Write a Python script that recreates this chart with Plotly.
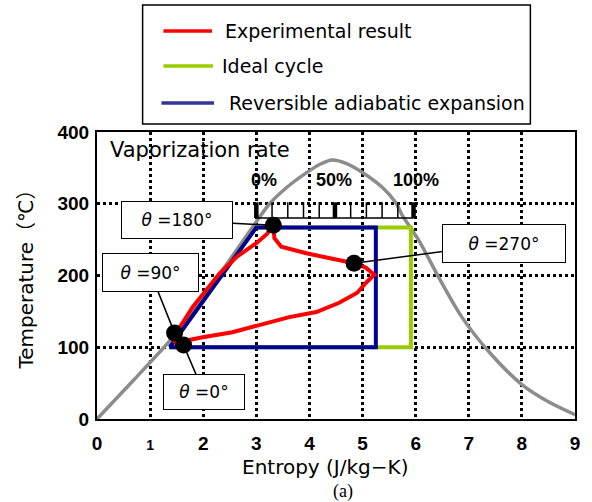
import plotly.graph_objects as go

# ---------------- data ----------------
dome_s = [0.0, 0.7, 1.43, 2.0, 2.5, 3.0, 3.25, 3.56, 3.94, 4.2, 4.43,
          4.7, 4.99, 5.37, 5.63, 5.74, 6.06, 6.43, 6.87, 7.4, 8.0, 8.5, 9.0]
dome_T = [0, 55, 114, 170, 222, 275, 300, 322, 343, 355, 361,
          356, 344, 323, 301, 285, 249, 198, 142, 92, 48, 24, 6]

ideal_s = [1.37, 5.91, 5.91, 3.0, 1.37]
ideal_T = [100, 100, 267, 267, 100]

rev_s = [1.37, 5.25, 5.25, 3.0, 1.37]
rev_T = [100, 100, 267, 267, 100]

exp_s = [1.45, 1.56, 1.80, 2.06, 2.31, 2.63, 3.00, 3.20, 3.32, 3.34, 3.47, 3.94,
         4.37, 4.84, 5.06, 5.22, 5.08, 4.90, 4.56, 4.13, 3.62, 3.19, 2.55, 1.99,
         1.52, 1.45]
exp_T = [106, 128, 156, 180, 203, 226, 245, 258, 270, 252, 240, 231,
         224, 217, 211, 201, 191, 176, 162, 149, 142, 134, 121, 114,
         107, 106]

theta_labels = ["0", "90", "180", "270"]
theta_s = [1.63, 1.46, 3.32, 4.84]
theta_T = [103, 120, 270, 217]

vap_pct = [0, 10, 20, 30, 40, 50, 60, 70, 80, 90, 100]
vap_major = [0, 50, 100]
vap_s0, vap_s100 = 3.0, 5.96
vap_base_T, vap_top_T = 280, 302

x_ticks = [0, 1, 2, 3, 4, 5, 6, 7, 8, 9]
y_ticks = [0, 100, 200, 300, 400]

# ---------------- geometry helpers ----------------
W, H = 592, 502
L, R, T, B = 97, 579, 132, 419


def px(xp):
    return (xp - L) / (R - L)


def py(yp):
    return (B - yp) / (B - T)


fig = go.Figure()

fig.add_trace(go.Scatter(x=dome_s, y=dome_T, mode="lines",
                         line=dict(color="#8c8c8c", width=3.5, shape="spline", smoothing=0.8),
                         showlegend=False, hoverinfo="skip"))
fig.add_trace(go.Scatter(x=ideal_s, y=ideal_T, mode="lines", line=dict(color="#99cc00", width=4),
                         name="Ideal cycle", showlegend=False))
fig.add_trace(go.Scatter(x=rev_s, y=rev_T, mode="lines", line=dict(color="#000096", width=4),
                         name="Reversible adiabatic expansion", showlegend=False))
fig.add_trace(go.Scatter(x=exp_s, y=exp_T, mode="lines", line=dict(color="#ff0000", width=4),
                         name="Experimental result", showlegend=False))


# vaporization rate scale
def vx(p):
    return vap_s0 + p / 100 * (vap_s100 - vap_s0)


minor_x, minor_y = [vx(0), vx(100), None], [vap_base_T, vap_base_T, None]
for p in vap_pct:
    if p not in vap_major:
        minor_x += [vx(p), vx(p), None]
        minor_y += [vap_base_T, vap_top_T, None]
major_x, major_y = [], []
for p in vap_major:
    major_x += [vx(p), vx(p), None]
    major_y += [vap_base_T, vap_top_T, None]
fig.add_trace(go.Scatter(x=minor_x, y=minor_y, mode="lines", line=dict(color="black", width=1.5),
                         showlegend=False, hoverinfo="skip"))
fig.add_trace(go.Scatter(x=major_x, y=major_y, mode="lines", line=dict(color="black", width=4.5),
                         showlegend=False, hoverinfo="skip"))

fig.add_trace(go.Scatter(x=theta_s, y=theta_T, mode="markers", marker=dict(color="black", size=17),
                         showlegend=False, hoverinfo="skip"))

ann = []
box_spec = {"0": (20, 47, 80, 34), "90": (-24, -60, 95, 37), "180": (-96, -5, 110, 36), "270": (150, -20, 122, 37)}
for lab, s, t in zip(theta_labels, theta_s, theta_T):
    ax, ay, w, h = box_spec[lab]
    ann.append(dict(x=s, y=t, xref="x", yref="y", text="<i>θ</i> =" + lab + "°",
                    font=dict(family="DejaVu Sans", size=17, color="black"),
                    showarrow=True, arrowhead=0, arrowwidth=1.5, arrowcolor="black",
                    ax=ax, ay=ay, bgcolor="white", bordercolor="black", borderwidth=1,
                    borderpad=0, width=w, height=h))

ann.append(dict(x=0.2, y=375, xref="x", yref="y", text="Vaporization rate", xanchor="left", yanchor="middle",
                showarrow=False, font=dict(family="DejaVu Sans", size=21, color="black")))
for lab, s in zip(["0%", "50%", "100%"], [3.15, 4.47, 6.0]):
    ann.append(dict(x=s, y=333, xref="x", yref="y", text="<b>" + lab + "</b>", showarrow=False,
                    xanchor="center", yanchor="middle",
                    font=dict(family="Liberation Sans", size=18, color="black")))

ann.append(dict(x=px(327), y=py(467), xref="paper", yref="paper", text="Entropy (J/kg−K)",
                xanchor="center", yanchor="middle",
                showarrow=False, font=dict(family="DejaVu Sans", size=20, color="black")))
ann.append(dict(x=px(345), y=py(491), xref="paper", yref="paper", text="(a)",
                xanchor="center", yanchor="middle",
                showarrow=False, font=dict(family="Liberation Serif", size=18, color="black")))
ann.append(dict(x=px(25), y=py(275), xref="paper", yref="paper", text="Temperature（℃）", textangle=-90,
                xanchor="center", yanchor="middle",
                showarrow=False, font=dict(family="DejaVu Sans, Noto Sans CJK JP", size=20, color="black")))

shapes = [dict(type="rect", xref="paper", yref="paper", x0=px(143), x1=px(534), y0=py(124), y1=py(5),
               line=dict(color="black", width=1.5), fillcolor="white", layer="above")]
leg_items = [("Experimental result", "#ff0000", 31, 164, 213, 224),
             ("Ideal cycle", "#99cc00", 66, 164, 214, 221),
             ("Reversible adiabatic expansion", "#333399", 103, 162, 215, 228)]
for name, col, yy, x0, x1, tx in leg_items:
    shapes.append(dict(type="line", xref="paper", yref="paper", x0=px(x0), x1=px(x1), y0=py(yy), y1=py(yy),
                       line=dict(color=col, width=3.5), layer="above"))
    ann.append(dict(x=px(tx), y=py(yy), xref="paper", yref="paper", text=name, xanchor="left", yanchor="middle",
                    showarrow=False, font=dict(family="DejaVu Sans", size=19, color="black")))

fig.update_layout(
    width=W, height=H, margin=dict(l=L, r=W - R, t=T, b=H - B),
    paper_bgcolor="white", plot_bgcolor="white",
    annotations=ann, shapes=shapes,
    xaxis=dict(range=[0, 9], tickvals=x_ticks,
               ticktext=["0", '<span style="font-size:14px">1</span>', "2", "3", "4", "5", "6", "7", "8", "9"],
               showgrid=True, gridcolor="black", gridwidth=2.5, griddash="dot", zeroline=False,
               showline=True, linecolor="black", linewidth=2, mirror=True, ticks="",
               ticklabelstandoff=6,
               tickfont=dict(family="Liberation Sans", size=19, color="black", weight="bold")),
    yaxis=dict(range=[0, 400], tickvals=y_ticks,
               showgrid=True, gridcolor="black", gridwidth=2.5, griddash="dot", zeroline=False,
               showline=True, linecolor="black", linewidth=2, mirror=True, ticks="",
               ticklabelstandoff=2,
               tickfont=dict(family="Liberation Sans", size=19, color="black", weight="bold")),
    showlegend=False,
)

fig.write_html("out.html")
